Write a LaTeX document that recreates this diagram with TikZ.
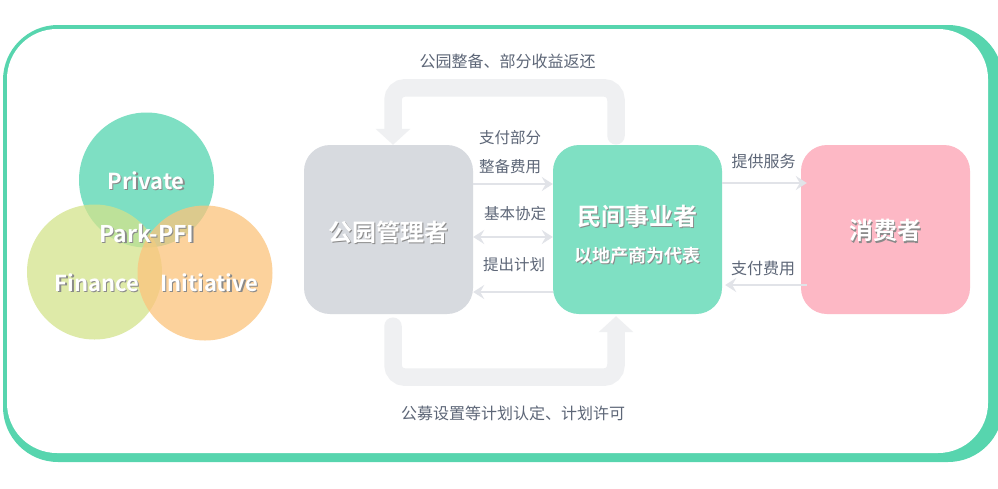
\documentclass[tikz,border=0pt]{standalone}
\usepackage{fontspec}
\setmainfont{Noto Sans CJK SC}[BoldFont={* Bold}]
\usetikzlibrary{arrows.meta, positioning}

\definecolor{framegreen}{HTML}{57D5AE}
\definecolor{privategreen}{HTML}{53D5AF}
\definecolor{financelime}{HTML}{D3E38B}
\definecolor{initorange}{HTML}{FCC47C}
\definecolor{boxgray}{HTML}{D7DADF}
\definecolor{boxgreen}{HTML}{7FE0C3}
\definecolor{boxpink}{HTML}{FDB8C5}
\definecolor{bandgray}{HTML}{EFF0F2}
\definecolor{arrowgray}{HTML}{E1E3E8}
\definecolor{labelgray}{HTML}{5D6677}
\definecolor{shadowgray}{HTML}{8A8A8A}

\newcommand{\shadowed}[1]{\leavevmode\rlap{\kern1.4pt\raisebox{-1.4pt}{\textcolor{shadowgray}{#1}}}#1}
\newcommand{\lowered}[2]{\raisebox{-#1}[\height][\depth]{#2}}

\tikzset{
    party/.style={minimum width=169pt, minimum height=169pt, inner sep=0pt,
        rounded corners=26pt, text=white, font=\bfseries\fontsize{24}{28}\selectfont},
    venn/.style={circle, minimum size=135pt, inner sep=0pt, fill opacity=0.75},
    venntext/.style={text=white, font=\bfseries\fontsize{22}{26}\selectfont},
    flowlabel/.style={text=labelgray, font=\fontsize{15.5}{18}\selectfont},
    flow/.style={draw=arrowgray, line width=2.6pt,
        -{Stealth[length=11pt, width=14pt, inset=4pt]}},
    band/.style={draw=bandgray, line width=17.5pt, rounded corners=12pt,
        line cap=round, -{Triangle[length=16pt, width=34pt]}}
}

\begin{document}
\begin{tikzpicture}[x=1pt, y=-1pt]

    \useasboundingbox (0,0) rectangle (998,488);

    % OUTER FRAME
    \fill[framegreen, rounded corners=55pt] (3,25) rectangle (1003,462);
    \fill[white, rounded corners=50pt] (7,29) rectangle (988,453);

    % VENN OF PARK-PFI
    \node[venn, fill=privategreen] (privatecircle) at (146.5,180) {};
    \node[venn, fill=financelime] (financecircle) at (94.5,272) {};
    \node[venn, fill=initorange] (initcircle) at (205,273) {};
    \node[venntext] (private) at (146,181) {\shadowed{Private}};
    \node[venntext, font=\bfseries\fontsize{23}{26}\selectfont] (parkpfi) at (147,234) {\shadowed{Park-PFI}};
    \node[venntext] (finance) at (97,283) {\shadowed{Finance}};
    \node[venntext] (initiative) at (209,283) {\shadowed{Initiative}};

    % THE THREE PARTIES
    \node[party, fill=boxgray] (manager) at (388.5,229.5)
        {\lowered{3.5pt}{\shadowed{公园管理者}}};
    \node[party, fill=boxgreen, align=center] (developer) at (637.5,229.5)
        {\lowered{5pt}{\shadowed{民间事业者}}\\[8pt]
         {\fontsize{18}{22}\selectfont\lowered{6pt}{\shadowed{以地产商为代表}}}};
    \node[party, fill=boxpink] (consumer) at (885.5,229.5)
        {\lowered{2pt}{\shadowed{消费者}}};

    % LARGE RETURN LOOPS
    \draw[band] ([xshift=-21.5pt, yshift=9pt]developer.north) -- ++(0,-48)
        -| (manager.north -| 393,0);
    \draw[band] ([xshift=4.5pt, yshift=-12pt]manager.south) -- ++(0,51)
        -| ([xshift=-21.5pt, yshift=-2pt]developer.south);

    % MANAGER <-> DEVELOPER
    \draw[flow] ([yshift=45.5pt]manager.east) -- ([yshift=45.5pt]developer.west);
    \draw[flow, {Stealth[length=11pt, width=14pt, inset=4pt]}-{Stealth[length=11pt, width=14pt, inset=4pt]}]
        ([yshift=-7.5pt]manager.east) -- ([yshift=-7.5pt]developer.west);
    \draw[flow] ([yshift=-62.5pt]developer.west) -- ([yshift=-62.5pt]manager.east);

    % DEVELOPER <-> CONSUMER
    \draw[flow] ([yshift=46.5pt]developer.east) -- ([xshift=6pt, yshift=46.5pt]consumer.west);
    \draw[flow] ([xshift=6pt, yshift=-55.5pt]consumer.west) -- ([xshift=3pt, yshift=-55.5pt]developer.east);

    % LABELS
    \node[flowlabel, font=\fontsize{16}{18}\selectfont] (returnlabel) at (507.5,61) {公园整备、部分收益返还};
    \node[flowlabel] (paylabel) at (510,138) {支付部分};
    \node[flowlabel] (costlabel) at (510,167) {整备费用};
    \node[flowlabel] (agreelabel) at (515,214) {基本协定};
    \node[flowlabel] (planlabel) at (514,265) {提出计划};
    \node[flowlabel, font=\fontsize{16}{18}\selectfont] (servicelabel) at (763.5,161) {提供服务};
    \node[flowlabel, font=\fontsize{16}{18}\selectfont] (feelabel) at (763,268) {支付费用};
    \node[flowlabel, font=\fontsize{16}{18}\selectfont] (permitlabel) at (513,413) {公募设置等计划认定、计划许可};

\end{tikzpicture}
\end{document}
